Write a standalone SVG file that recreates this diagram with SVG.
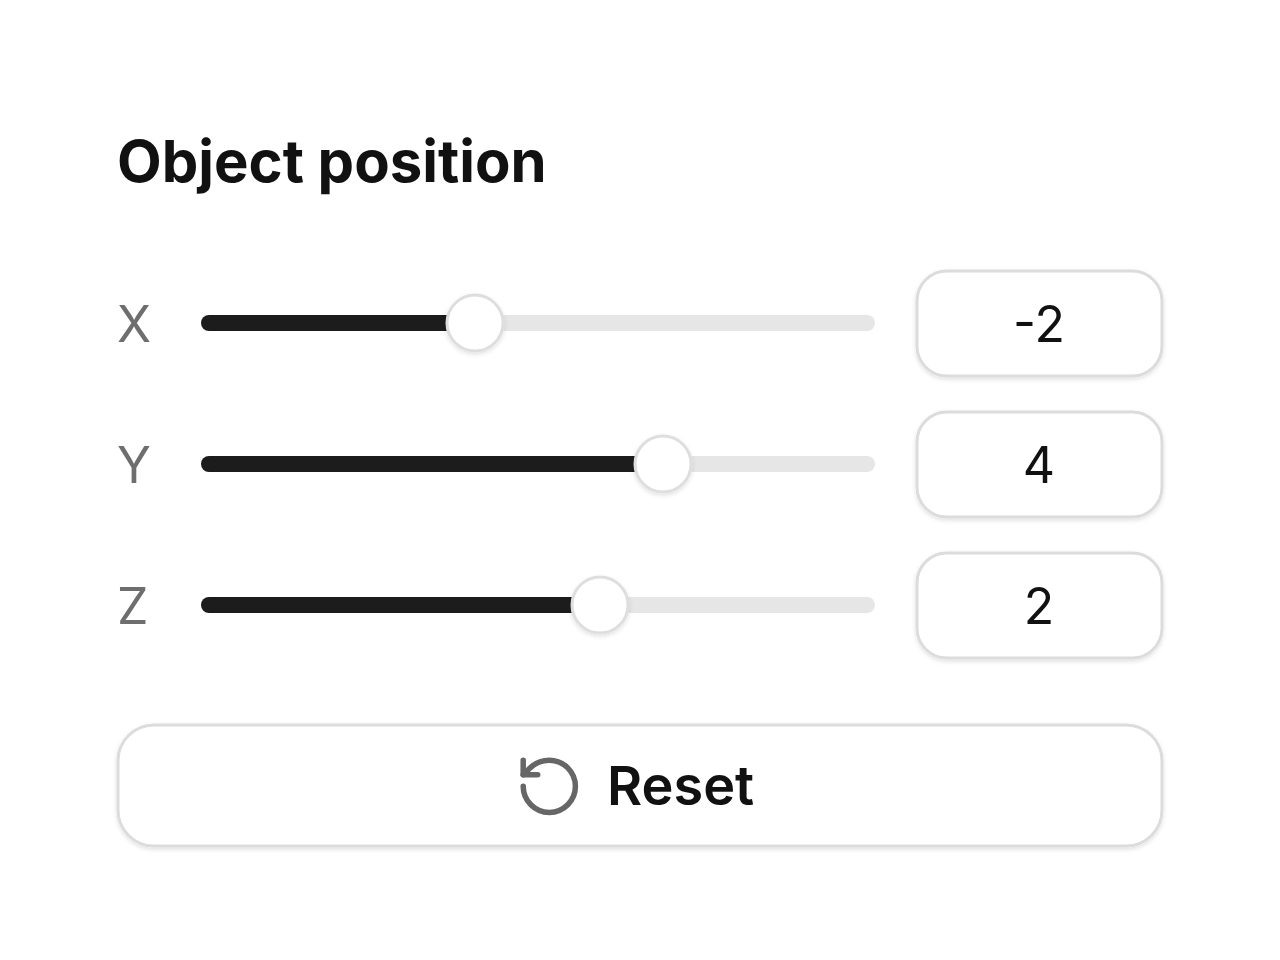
<svg xmlns="http://www.w3.org/2000/svg" width="1280" height="960" viewBox="0 0 1280 960">
<defs>
<style>
text{font-family:Inter,"Liberation Sans",sans-serif}
.title{font-size:58px;font-weight:700;fill:#111}
.lab{font-size:50px;fill:#6e6e6e}
.val{font-size:50px;fill:#111;text-anchor:middle}
.trk{stroke:#e6e6e6;stroke-width:16;stroke-linecap:round}
.fill{stroke:#1c1c1c;stroke-width:16;stroke-linecap:round}
.knob{fill:#fff;stroke:#dedede;stroke-width:3}
.box{fill:#fff;stroke:#dcdcdc;stroke-width:3}
</style>
<filter id="sh" x="-20%" y="-20%" width="140%" height="140%"><feDropShadow dx="0" dy="2" stdDeviation="2" flood-opacity="0.12"/></filter>
</defs>
<rect width="1280" height="960" fill="#fff"/>
<text class="title" x="117" y="182">Object position</text>
<g id="row-x">
<text class="lab" x="117" y="342">X</text>
<line class="trk" x1="209" y1="323" x2="867" y2="323"/>
<line class="fill" x1="209" y1="323" x2="475" y2="323"/>
<circle class="knob" cx="475" cy="323" r="28" filter="url(#sh)"/>
<rect class="box" x="917" y="271" width="245" height="105" rx="30" filter="url(#sh)"/>
<text class="val" x="1039" y="342">-2</text>
</g>
<g id="row-y">
<text class="lab" x="117" y="483">Y</text>
<line class="trk" x1="209" y1="464" x2="867" y2="464"/>
<line class="fill" x1="209" y1="464" x2="663" y2="464"/>
<circle class="knob" cx="663" cy="464" r="28" filter="url(#sh)"/>
<rect class="box" x="917" y="412" width="245" height="105" rx="30" filter="url(#sh)"/>
<text class="val" x="1039" y="483">4</text>
</g>
<g id="row-z">
<text class="lab" x="117" y="624">Z</text>
<line class="trk" x1="209" y1="605" x2="867" y2="605"/>
<line class="fill" x1="209" y1="605" x2="600" y2="605"/>
<circle class="knob" cx="600" cy="605" r="28" filter="url(#sh)"/>
<rect class="box" x="917" y="553" width="245" height="105" rx="30" filter="url(#sh)"/>
<text class="val" x="1039" y="624">2</text>
</g>
<g id="reset">
<rect class="box" x="118" y="725" width="1044" height="121" rx="36" filter="url(#sh)"/>
<g transform="translate(514.5,751.5) scale(2.9)" fill="none" stroke="#666" stroke-width="1.9" stroke-linecap="round" stroke-linejoin="round">
<path d="M3 12a9 9 0 1 0 9-9 9.75 9.75 0 0 0-6.74 2.74L3 8"/>
<path d="M3 3v5h5"/>
</g>
<text x="607" y="805" font-size="54" font-weight="600" fill="#111">Reset</text>
</g>
</svg>
